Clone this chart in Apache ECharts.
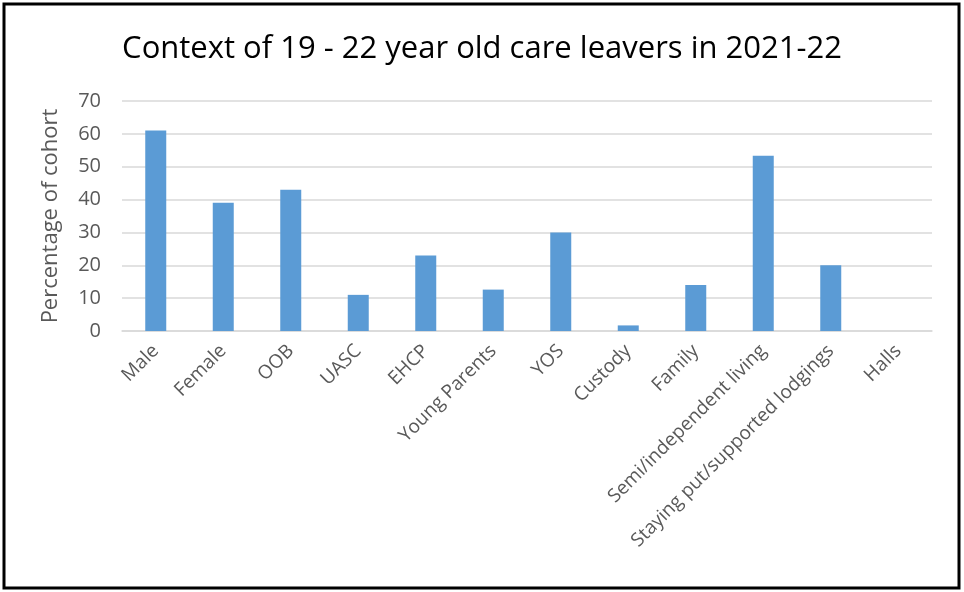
<!DOCTYPE html>
<html><head><meta charset="utf-8">
<script src="https://cdn.jsdelivr.net/npm/echarts@6/dist/echarts.min.js"></script>
<style>html,body{margin:0;padding:0;background:#fff}#c{width:964px;height:592px}</style>
</head><body><div id="c"></div>
<script>
const categories = ["Male","Female","OOB","UASC","EHCP","Young Parents","YOS","Custody","Family","Semi/independent living","Staying put/supported lodgings","Halls"];
const values = [61, 39, 43, 11, 23, 12.6, 30, 1.7, 14, 53.3, 20, 0];
const yTicks = {min: 0, max: 70, interval: 10};
const titleText = "Context of 19 - 22 year old care leavers in 2021-22";
const yName = "Percentage of cohort";

const chart = echarts.init(document.getElementById('c'));
chart.setOption({
  backgroundColor: '#fff',
  animation: false,
  title: {
    text: titleText, left: 'center', top: 29,
    textStyle: {fontFamily: 'Open Sans', fontSize: 31, fontWeight: 'normal', color: '#000'}
  },
  graphic: [{
    type: 'rect', shape: {x: 4, y: 4, width: 955, height: 584},
    style: {fill: 'none', stroke: '#000', lineWidth: 3}, silent: true
  }],
  grid: {left: 122, right: 32, top: 101, bottom: 261},
  xAxis: {
    type: 'category', data: categories,
    axisTick: {show: false},
    axisLine: {lineStyle: {color: '#D9D9D9', width: 1.5}},
    axisLabel: {rotate: 45, color: '#595959', fontFamily: 'Open Sans', fontSize: 19, margin: 17, interval: 0}
  },
  yAxis: {
    type: 'value', min: yTicks.min, max: yTicks.max, interval: yTicks.interval,
    name: yName, nameLocation: 'middle', nameGap: 60, nameRotate: 90,
    nameTextStyle: {color: '#595959', fontFamily: 'Open Sans', fontSize: 22},
    axisLine: {show: false}, axisTick: {show: false},
    axisLabel: {color: '#595959', fontFamily: 'Open Sans', fontSize: 20, margin: 21},
    splitLine: {lineStyle: {color: '#D9D9D9', width: 1.5}}
  },
  series: [{
    type: 'bar', data: values, barWidth: 21,
    itemStyle: {color: '#5B9BD5'}
  }]
});
</script></body></html>
